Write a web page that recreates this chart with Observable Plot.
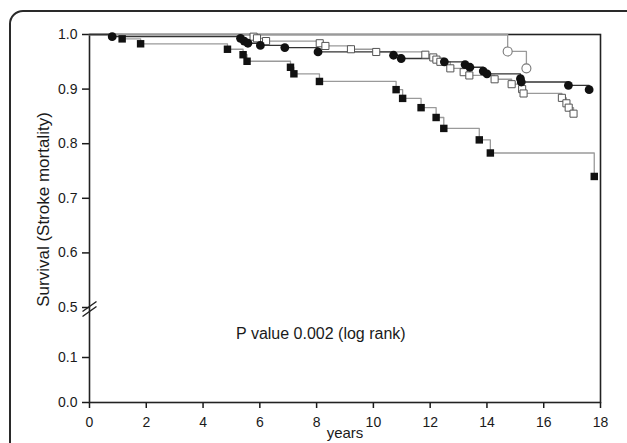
<!DOCTYPE html>
<html><head><meta charset="utf-8">
<script src="https://cdn.jsdelivr.net/npm/d3@7"></script>
<script src="https://cdn.jsdelivr.net/npm/@observablehq/plot@0.6"></script>
<style>
html,body{margin:0;padding:0;background:#fff;overflow:hidden;width:627px;height:443px;}
#wrap{position:relative;width:627px;height:443px;overflow:hidden;}
#border{position:absolute;left:9px;top:10px;width:640px;height:470px;border:2px solid #2a2a2a;border-radius:14px;box-sizing:border-box;}
#chart{position:absolute;left:0;top:0;}
</style></head><body><div id="wrap"><div id="border"></div><div id="chart"></div></div>
<script>
// ---- data ----
const filledCircleYears = [0.8, 5.32, 5.45, 5.58, 6.02, 6.88, 8.05, 10.71, 10.98, 12.5, 13.23, 13.4, 13.87, 14.0, 15.18, 15.21, 16.87, 17.6];
const filledCircleSurv  = [0.996, 0.993, 0.988, 0.984, 0.980, 0.976, 0.968, 0.962, 0.956, 0.950, 0.945, 0.940, 0.933, 0.928, 0.919, 0.913, 0.907, 0.899];

const openSquareYears = [5.78, 5.9, 6.22, 8.11, 8.31, 9.21, 10.1, 11.83, 12.11, 12.22, 12.36, 12.71, 13.18, 13.38, 14.27, 14.87, 15.24, 15.29, 16.64, 16.8, 16.88, 17.05];
const openSquareSurv  = [0.996, 0.993, 0.988, 0.984, 0.979, 0.973, 0.968, 0.963, 0.958, 0.954, 0.950, 0.938, 0.931, 0.925, 0.918, 0.909, 0.900, 0.892, 0.884, 0.874, 0.866, 0.855];

const filledSquareYears = [1.15, 1.8, 4.86, 5.41, 5.55, 7.08, 7.2, 8.1, 10.8, 11.03, 11.68, 12.21, 12.48, 13.73, 14.12, 17.78];
const filledSquareSurv  = [0.992, 0.983, 0.973, 0.963, 0.951, 0.940, 0.928, 0.914, 0.899, 0.883, 0.866, 0.848, 0.828, 0.807, 0.783, 0.740];

const openCircleYears = [14.73, 15.39];
const openCircleSurv  = [0.969, 0.938];

const xTicks = [0, 2, 4, 6, 8, 10, 12, 14, 16, 18];
const yTicks = [0.0, 0.1, 0.5, 0.6, 0.7, 0.8, 0.9, 1.0];
const yBreak = [0.5];
const xLabel = "years";
const yLabel = "Survival (Stroke mortality)";
const note = "P value 0.002 (log rank)";

// ---- build step series ----
function km(years, surv) {
  return [{t: 0, s: 1}, ...years.map((t, i) => ({t, s: surv[i]}))];
}
const fc = km(filledCircleYears, filledCircleSurv);
const os = km(openSquareYears, openSquareSurv);
const fs = km(filledSquareYears, filledSquareSurv);
const oc = km(openCircleYears, openCircleSurv);

const breakSymbol = {
  draw(ctx) {
    ctx.moveTo(-7, 4); ctx.lineTo(7, -6);
    ctx.moveTo(-7, 9); ctx.lineTo(7, -1);
  }
};

const chart = Plot.plot({
  width: 627,
  height: 443,
  marginLeft: 89,
  marginRight: 27,
  marginTop: 34,
  marginBottom: 41,
  style: {fontFamily: "'Liberation Sans', Arial, sans-serif", color: "#1a1a1a", background: "transparent"},
  x: {domain: [0, 18], range: [89, 600]},
  y: {type: "linear", domain: [0, 0.1, 0.5, 1], range: [402, 357, 307, 34]},
  marks: [
    Plot.axisY({ticks: yTicks, tickFormat: d3.format(".1f"), tickSize: 7, tickPadding: 5, fontSize: 14, label: null, strokeWidth: 1.5}),
    Plot.axisX({ticks: xTicks, tickSize: 6, tickPadding: 9, fontSize: 14, label: null, strokeWidth: 1.5}),
    Plot.frame({stroke: "#222", strokeWidth: 1.6}),
    Plot.line(fs, {x: "t", y: "s", curve: "step-after", stroke: "#9a9a9a", strokeWidth: 1.3}),
    Plot.line(os, {x: "t", y: "s", curve: "step-after", stroke: "#9a9a9a", strokeWidth: 1.3}),
    Plot.line(oc, {x: "t", y: "s", curve: "step-after", stroke: "#9a9a9a", strokeWidth: 1.3}),
    Plot.line(fc, {x: "t", y: "s", curve: "step-after", stroke: "#333", strokeWidth: 1.3}),
    Plot.dot(fs.slice(1), {x: "t", y: "s", symbol: "square", r: 4.2, fill: "#111", stroke: "none"}),
    Plot.dot(os.slice(1), {x: "t", y: "s", symbol: "square", r: 4, fill: "white", stroke: "#555", strokeWidth: 1}),
    Plot.dot(oc.slice(1), {x: "t", y: "s", symbol: "circle", r: 4.5, fill: "white", stroke: "#777", strokeWidth: 1.1}),
    Plot.dot(fc.slice(1), {x: "t", y: "s", symbol: "circle", r: 4.4, fill: "#111", stroke: "none"}),
    Plot.dot(yBreak, {x: () => 0, y: d => d, symbol: breakSymbol, r: 4, fill: "none", stroke: "#222", strokeWidth: 1.5}),
    Plot.text([note], {x: () => 8.15, y: () => 0.29, text: d => d, fontSize: 16, fill: "#1a1a1a"}),
    Plot.text([xLabel], {frameAnchor: "bottom", dy: 35, text: d => d, fontSize: 15, fill: "#1a1a1a"}),
    Plot.text([yLabel], {frameAnchor: "left", textAnchor: "middle", rotate: -90, dx: -46, dy: -9, text: d => d, fontSize: 17, fill: "#1a1a1a"})
  ]
});
document.getElementById("chart").appendChild(chart);
</script>
</body></html>
